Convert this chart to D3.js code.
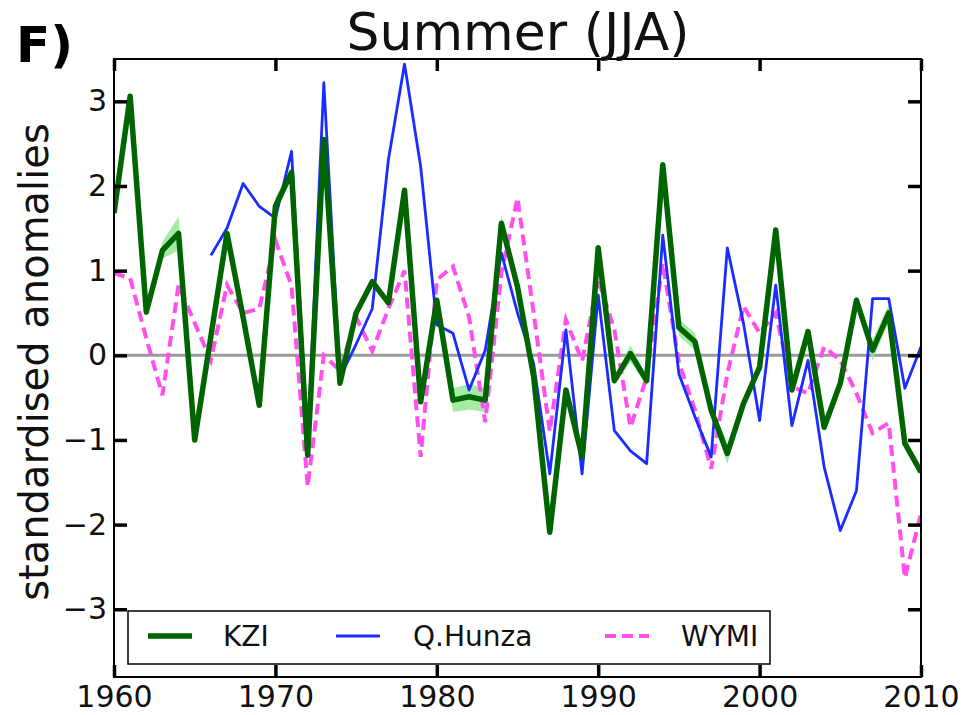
<!DOCTYPE html>
<html>
<head>
<meta charset="utf-8">
<script src="https://cdn.jsdelivr.net/npm/d3@7"></script>
<style>
  body { margin: 0; background: #fff; }
  svg { display: block; font-family: "DejaVu Sans", sans-serif; }
</style>
</head>
<body>
<svg id="chart" width="967" height="715"></svg>
<script>
// data (standardised anomalies, JJA)
var years = d3.range(1960, 2011);

var kzi = [1.68, 3.06, 0.51, 1.24, 1.44, -1.0, 0.22, 1.44, 0.45, -0.59,
           1.76, 2.16, -1.18, 2.55, -0.33, 0.5, 0.87, 0.62, 1.95, -0.55,
           0.65, -0.53, -0.49, -0.53, 1.56, 0.81, -0.25, -2.09, -0.41, -1.2,
           1.27, -0.3, 0.02, -0.3, 2.25, 0.33, 0.16, -0.65, -1.16, -0.57,
           -0.14, 1.48, -0.41, 0.28, -0.85, -0.33, 0.65, 0.06, 0.5, -1.04, -1.38];

// light green spread round KZI
var kziSpread = [0.08, 0.04, 0.04, 0.1, 0.2, 0.04, 0.03, 0.04, 0.03, 0.03,
                 0.1, 0.06, 0.03, 0.04, 0.03, 0.04, 0.04, 0.03, 0.04, 0.03,
                 0.05, 0.14, 0.15, 0.14, 0.1, 0.04, 0.03, 0.03, 0.03, 0.03,
                 0.04, 0.05, 0.1, 0.05, 0.04, 0.1, 0.1, 0.06, 0.12, 0.04,
                 0.04, 0.05, 0.04, 0.05, 0.04, 0.04, 0.04, 0.12, 0.1, 0.04, 0.04];

var hunza = [null, null, null, null, null, null, 1.18, 1.5, 2.03, 1.76,
             1.62, 2.41, -1.05, 3.22, -0.26, 0.13, 0.55, 2.31, 3.44, 2.23,
             0.36, 0.26, -0.41, 0.06, 1.21, 0.5, -0.1, -1.4, 0.3, -1.4,
             0.71, -0.89, -1.13, -1.28, 1.42, -0.22, -0.73, -1.2, 1.27, 0.38,
             -0.77, 0.83, -0.83, -0.06, -1.32, -2.07, -1.6, 0.67, 0.67, -0.39, 0.1];

var wymi = [0.97, 0.91, 0.2, -0.47, 0.83, 0.38, -0.06, 0.83, 0.5, 0.55,
            1.36, 0.82, -1.55, 0.0, -0.18, 0.45, 0.05, 0.55, 1.0, -1.2,
            0.89, 1.05, 0.45, -0.79, 0.97, 1.86, 0.5, -0.9, 0.42, -0.07,
            0.9, 0.3, -0.85, -0.26, 1.09, -0.08, -0.65, -1.34, -0.22, 0.58,
            0.26, 0.5, -0.37, -0.45, 0.1, -0.06, -0.45, -0.92, -0.8, -2.63, -1.87];

var yTicks = [-3, -2, -1, 0, 1, 2, 3];
var xTicks = [1960, 1970, 1980, 1990, 2000, 2010];

var seriesNames = ["KZI", "Q.Hunza", "WYMI"];
var seriesColors = ["#006400", "#1a2cff", "#ff50ee"];

var svg = d3.select("#chart");
// plot box (don't call these top/left: window.top is read-only)
var pL = 114, pR = 921, pT = 59, pB = 677;

var x = d3.scaleLinear().domain([1960, 2010]).range([pL, pR]);
var y = d3.scaleLinear().domain([-3.8, 3.5]).range([pB, pT]);

svg.append("defs").append("clipPath").attr("id", "clip")
  .append("rect").attr("x", pL).attr("y", pT)
  .attr("width", pR - pL).attr("height", pB - pT);

var plot = svg.append("g").attr("clip-path", "url(#clip)");

// zero line
plot.append("line")
  .attr("x1", pL).attr("x2", pR)
  .attr("y1", y(0)).attr("y2", y(0))
  .attr("stroke", "#9a9a9a").attr("stroke-width", 3);

var band = d3.area()
  .x((d, i) => x(years[i]))
  .y0((d, i) => y(d - kziSpread[i]))
  .y1((d, i) => y(d + kziSpread[i]));

plot.append("path").datum(kzi)
  .attr("d", band)
  .attr("fill", "#8fe68f").attr("opacity", 0.8);

var line = d3.line()
  .defined(d => d != null)
  .x((d, i) => x(years[i]))
  .y(d => y(d));

plot.append("path").datum(wymi)
  .attr("d", line).attr("fill", "none")
  .attr("stroke", seriesColors[2]).attr("stroke-width", 4)
  .attr("stroke-dasharray", "11,6");

plot.append("path").datum(hunza)
  .attr("d", line).attr("fill", "none")
  .attr("stroke", seriesColors[1]).attr("stroke-width", 2.8)
  .attr("stroke-linejoin", "round");

plot.append("path").datum(kzi)
  .attr("d", line).attr("fill", "none")
  .attr("stroke", seriesColors[0]).attr("stroke-width", 5.5)
  .attr("stroke-linejoin", "round");

// axes, ticks pointing inward like matplotlib
function styleAxis(g, showLabels) {
  g.attr("font-size", null).attr("font-family", null);
  g.select(".domain").remove();
  g.selectAll(".tick line").attr("stroke", "#000").attr("stroke-width", 3.5);
  g.selectAll(".tick text")
    .attr("fill", "#111")
    .style("font-size", "30px")
    .style("display", showLabels ? null : "none");
}

svg.append("g").attr("transform", "translate(" + pL + ",0)")
  .call(d3.axisLeft(y).tickValues(yTicks).tickFormat(d3.format("d"))
    .tickSizeInner(-13).tickSizeOuter(0).tickPadding(7))
  .call(g => styleAxis(g, true));

svg.append("g").attr("transform", "translate(" + pR + ",0)")
  .call(d3.axisRight(y).tickValues(yTicks).tickSizeInner(-13).tickSizeOuter(0))
  .call(g => styleAxis(g, false));

svg.append("g").attr("transform", "translate(0," + pB + ")")
  .call(d3.axisBottom(x).tickValues(xTicks).tickFormat(d3.format("d"))
    .tickSizeInner(-12).tickSizeOuter(0).tickPadding(9))
  .call(g => styleAxis(g, true));

svg.append("g").attr("transform", "translate(0," + pT + ")")
  .call(d3.axisTop(x).tickValues(xTicks).tickSizeInner(-12).tickSizeOuter(0))
  .call(g => styleAxis(g, false));

// frame
svg.append("rect")
  .attr("x", pL).attr("y", pT)
  .attr("width", pR - pL).attr("height", pB - pT)
  .attr("fill", "none").attr("stroke", "#000").attr("stroke-width", 2);

// legend
var legend = svg.append("g");
legend.append("rect")
  .attr("x", 128).attr("y", 611).attr("width", 642).attr("height", 53)
  .attr("fill", "#fff").attr("stroke", "#000").attr("stroke-width", 1.5);

var legendX = [148, 336, 605];
seriesNames.forEach(function (name, i) {
  var lx = legendX[i];
  legend.append("line")
    .attr("x1", lx).attr("x2", lx + 44)
    .attr("y1", 636).attr("y2", 636)
    .attr("stroke", seriesColors[i])
    .attr("stroke-width", [5.5, 2.8, 4][i])
    .attr("stroke-dasharray", i == 2 ? "11,6" : null);
  legend.append("text")
    .attr("x", [223, 413, 681][i]).attr("y", 646)
    .style("font-size", "28px").attr("fill", "#111")
    .text(name);
});

// titles
svg.append("text")
  .attr("x", 518).attr("y", 50)
  .attr("text-anchor", "middle")
  .style("font-size", "52px").attr("fill", "#111")
  .text("Summer (JJA)");

svg.append("text")
  .attr("x", 16).attr("y", 62)
  .style("font-size", "50px").style("font-weight", "bold")
  .text("F)");

svg.append("text")
  .attr("transform", "translate(48,362) rotate(-90)")
  .attr("text-anchor", "middle")
  .style("font-size", "40px").attr("fill", "#111")
  .text("standardised anomalies");
</script>
</body>
</html>
